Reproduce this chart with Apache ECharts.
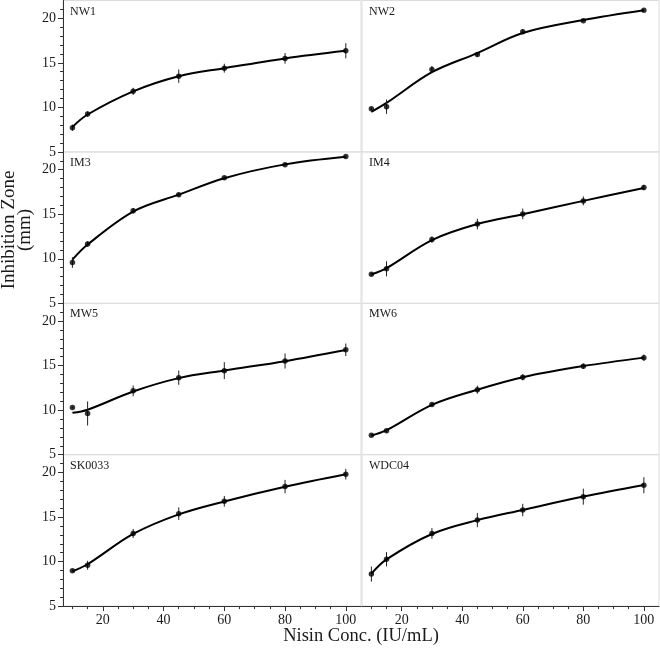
<!DOCTYPE html>
<html>
<head>
<meta charset="utf-8">
<script src="https://cdn.jsdelivr.net/npm/echarts@6/dist/echarts.min.js"></script>
<style>html,body{margin:0;padding:0;background:#fff}#c{width:660px;height:649px}</style>
</head>
<body>
<div id="c"></div>
<script>
// ---- data ----
var conc = [10, 15, 30, 45, 60, 80, 100];
var panelNames = ['NW1', 'NW2', 'IM3', 'IM4', 'MW5', 'MW6', 'SK0033', 'WDC04'];
var NW1 = [7.72, 9.25, 11.8, 13.5, 14.4, 15.5, 16.35];
var NW1_err = [0.35, 0.3, 0.4, 0.75, 0.5, 0.6, 0.85];
var NW1_fit = [7.8, 9.2, 11.8, 13.5, 14.4, 15.5, 16.35];
var NW2 = [9.85, 10.07, 14.25, 15.94, 18.5, 19.74, 20.9];
var NW2_err = [0.15, 0.8, 0.4, 0.2, 0.25, 0.1, 0.1];
var NW2_fit = [9.5, 10.5, 13.95, 16.1, 18.35, 19.8, 20.9];
var IM3 = [9.58, 11.66, 15.38, 17.19, 19.09, 20.57, 21.47];
var IM3_err = [0.6, 0.3, 0.3, 0.2, 0.15, 0.1, 0.1];
var IM3_fit = [9.9, 11.6, 15.3, 17.2, 19.05, 20.6, 21.45];
var IM4 = [8.26, 8.87, 12.15, 13.9, 15.04, 16.5, 18.0];
var IM4_err = [0.15, 0.85, 0.35, 0.6, 0.6, 0.5, 0.3];
var IM4_fit = [8.25, 8.95, 12.1, 13.9, 15.0, 16.5, 17.95];
var MW5 = [10.3, 9.63, 12.17, 13.65, 14.44, 15.52, 16.78];
var MW5_err = [0.1, 1.35, 0.6, 0.8, 0.95, 0.85, 0.7];
var MW5_fit = [9.7, 10.05, 12.1, 13.6, 14.45, 15.5, 16.75];
var MW6 = [7.19, 7.68, 10.64, 12.3, 13.69, 14.93, 15.9];
var MW6_err = [0.1, 0.2, 0.15, 0.45, 0.35, 0.3, 0.35];
var MW6_fit = [7.15, 7.75, 10.6, 12.3, 13.7, 14.95, 15.9];
var SK0033 = [8.98, 9.59, 13.16, 15.38, 16.77, 18.42, 19.81];
var SK0033_err = [0.15, 0.5, 0.5, 0.7, 0.6, 0.75, 0.6];
var SK0033_fit = [8.9, 9.7, 13.1, 15.3, 16.75, 18.4, 19.8];
var WDC04 = [8.6, 10.26, 13.16, 14.66, 15.79, 17.29, 18.57];
var WDC04_err = [0.85, 0.8, 0.6, 0.8, 0.7, 0.9, 0.9];
var WDC04_fit = [8.65, 10.25, 13.1, 14.65, 15.8, 17.3, 18.6];
var xMajorTicks = [20, 40, 60, 80, 100];
var xMinorTicks = [10, 15, 25, 30, 35, 45, 50, 55, 65, 70, 75, 85, 90, 95];
var yMajorTicks = [5, 10, 15, 20];
var yMinorTicks = [6, 7, 8, 9, 11, 12, 13, 14, 16, 17, 18, 19, 21];
var yTitle = 'Inhibition Zone\n(mm)';
var xTitle = 'Nisin Conc. (IU/mL)';

var means = [NW1, NW2, IM3, IM4, MW5, MW6, SK0033, WDC04];
var errs = [NW1_err, NW2_err, IM3_err, IM4_err, MW5_err, MW6_err, SK0033_err, WDC04_err];
var fits = [NW1_fit, NW2_fit, IM3_fit, IM4_fit, MW5_fit, MW6_fit, SK0033_fit, WDC04_fit];

// ---- layout ----
var FONT = '"Liberation Serif", "Times New Roman", serif';
var AXC = '#333';
var TXT = '#1a1a1a';
var gridLeft = [63, 362], gridWidth = [298, 297];
var gridTop0 = 0.5, gridH = 151.4;
var XMIN = 6.9, XMAX = 105, YMIN = 5, YMAX = 22;

var gridList = [], xAxes = [], yAxes = [], seriesList = [], graphics = [];
for (var i = 0; i < 8; i++) {
  var row = Math.floor(i / 2), col = i % 2;
  var isBottom = row === 3, leftCol = col === 0;
  var gTop = gridTop0 + row * gridH;
  gridList.push({left: gridLeft[col], top: gTop, width: gridWidth[col], height: gridH,
    show: true, borderColor: '#dcdcdc', borderWidth: 1});
  xAxes.push({type: 'value', gridIndex: i, min: XMIN, max: XMAX, position: 'bottom',
    axisLine: {show: isBottom, onZero: false, lineStyle: {color: AXC, width: 1}},
    axisTick: {show: isBottom, length: 5, customValues: xMajorTicks, lineStyle: {color: AXC}},
    axisLabel: {show: isBottom, customValues: xMajorTicks, margin: 7, fontFamily: FONT, fontSize: 14, color: TXT},
    splitLine: {show: false}});
  xAxes.push({type: 'value', gridIndex: i, min: XMIN, max: XMAX, position: 'bottom',
    axisLine: {show: false, onZero: false},
    axisTick: {show: isBottom, length: 3, customValues: xMinorTicks, lineStyle: {color: AXC}},
    axisLabel: {show: false}, splitLine: {show: false}});
  yAxes.push({type: 'value', gridIndex: i, min: YMIN, max: YMAX, position: 'left',
    axisLine: {show: leftCol, onZero: false, lineStyle: {color: AXC, width: 1}},
    axisTick: {show: leftCol, length: 5, customValues: yMajorTicks, lineStyle: {color: AXC}},
    axisLabel: {show: leftCol, customValues: yMajorTicks, margin: 7, fontFamily: FONT, fontSize: 14, color: TXT},
    splitLine: {show: false}});
  yAxes.push({type: 'value', gridIndex: i, min: YMIN, max: YMAX, position: 'left',
    axisLine: {show: false, onZero: false},
    axisTick: {show: leftCol, length: 3, customValues: yMinorTicks, lineStyle: {color: AXC}},
    axisLabel: {show: false}, splitLine: {show: false}});

  var xi = i * 2, yi = i * 2;
  var fitData = conc.map(function (x, k) { return [x, fits[i][k]]; });
  var ptData = conc.map(function (x, k) { return [x, means[i][k]]; });
  var errData = conc.map(function (x, k) { return [x, means[i][k] - errs[i][k], means[i][k] + errs[i][k]]; });

  seriesList.push({type: 'line', xAxisIndex: xi, yAxisIndex: yi, data: fitData, smooth: 0.35,
    showSymbol: false, silent: true, lineStyle: {color: '#000', width: 2}, z: 3});
  seriesList.push({type: 'custom', xAxisIndex: xi, yAxisIndex: yi, data: errData, silent: true, z: 4,
    renderItem: function (params, api) {
      var p1 = api.coord([api.value(0), api.value(1)]);
      var p2 = api.coord([api.value(0), api.value(2)]);
      return {type: 'line', shape: {x1: p1[0], y1: p1[1], x2: p2[0], y2: p2[1]},
        style: {stroke: '#222', lineWidth: 1}};
    }});
  seriesList.push({type: 'scatter', xAxisIndex: xi, yAxisIndex: yi, data: ptData, symbol: 'circle',
    symbolSize: 5.5, silent: true, itemStyle: {color: '#000'}, z: 5});

  graphics.push({type: 'text', x: gridLeft[col] + 7, y: gTop + 5,
    style: {text: panelNames[i], fontFamily: FONT, fontSize: 12, fill: TXT}});
}

graphics.push({type: 'text', x: 17, y: 230, rotation: Math.PI / 2,
  style: {text: yTitle, fontFamily: FONT, fontSize: 19, lineHeight: 16, fill: TXT, align: 'center', verticalAlign: 'middle'}});
graphics.push({type: 'text', x: 361, y: 636,
  style: {text: xTitle, fontFamily: FONT, fontSize: 18.5, fill: TXT, align: 'center', verticalAlign: 'middle'}});

var chart = echarts.init(document.getElementById('c'));
chart.setOption({
  animation: false,
  backgroundColor: '#fff',
  grid: gridList, xAxis: xAxes, yAxis: yAxes, series: seriesList, graphic: graphics
});
</script>
</body>
</html>
